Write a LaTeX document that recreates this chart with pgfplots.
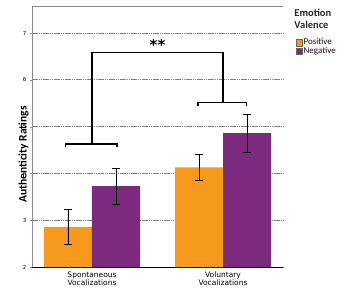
\documentclass[border=0pt]{standalone}
\usepackage{pgfplots}
\pgfplotsset{compat=1.18}
\usepackage{fontspec}
\setmainfont{Carlito}
\newfontfamily\catfont{DejaVu Sans}
\definecolor{posorange}{HTML}{F7991C}
\definecolor{negpurple}{HTML}{7B2A7D}
\definecolor{gridgray}{HTML}{8C8C8C}
\begin{document}
\begin{tikzpicture}[x=1pt,y=1pt]
\useasboundingbox (0,0) rectangle (355,294);
\begin{axis}[
  at={(32pt,27pt)}, anchor=south west,
  scale only axis, width=251pt, height=261pt,
  ybar=0pt, bar width=48pt,
  xmin=-0.458, xmax=1.458,
  ymin=2, ymax=7.58,
  xtick={0,1},
  xticklabels={Spontaneous\\Vocalizations, Voluntary\\Vocalizations},
  xticklabel style={align=center, font=\catfont\fontsize{7.5}{8.5}\selectfont, yshift=1pt},
  x tick style={draw=none},
  ytick={2,3,4,5,6,7},
  yticklabel style={font=\catfont\fontsize{5.5}{5.5}\selectfont},
  /pgf/number format/assume math mode=true,
  tick align=outside, major tick length=2pt,
  y tick style={gridgray},
  ymajorgrids,
  major grid style={gridgray!90!black, line width=0.8pt, dash pattern=on 1.6pt off 0.6pt},
  axis x line*=bottom, axis y line*=left,
  x axis line style={black, line width=0.8pt, -},
  y axis line style={gridgray, line width=0.8pt, -},
  ylabel={\bfseries Authenticity Ratings},
  ylabel style={font=\fontsize{11.5}{12}\selectfont, at={(rel axis cs:0,0.5)}, xshift=-18pt},
  legend style={at={(rel axis cs:1.05,0.88)}, anchor=north west, draw=none,
    fill=none, font=\fontsize{9}{9}\selectfont, text=black!75!negpurple,
    row sep=-1pt, inner sep=0pt, nodes={inner sep=1pt}},
  legend image code/.code={\draw[#1, draw=black!60, line width=0.3pt] (0pt,-3.3pt) rectangle (6.6pt,3.3pt);},
  legend cell align=left,
  clip=false,
]
% Mean ratings with error bars
\addplot[fill=posorange, draw=none,
  error bars/.cd, y dir=both, y explicit,
  error bar style={black, line width=0.6pt},
  error mark options={black, rotate=90, mark size=4pt, line width=0.6pt}]
  coordinates {(0,2.86) +- (0,0.38) (1,4.13) +- (0,0.28)};
\addplot[fill=negpurple, draw=none,
  error bars/.cd, y dir=both, y explicit,
  error bar style={black, line width=0.6pt},
  error mark options={black, rotate=90, mark size=4pt, line width=0.6pt}]
  coordinates {(0,3.73) +- (0,0.38) (1,4.86) +- (0,0.40)};
\legend{Positive, Negative}
% top frame line
\draw[gridgray, line width=0.8pt] (rel axis cs:0,1) -- (rel axis cs:1,1);
% significance brackets
\draw[black, line width=1.3pt]
  (axis cs:-0.2,4.57) -- (axis cs:-0.2,4.63) -- (axis cs:0.19,4.63) -- (axis cs:0.19,4.57);
\draw[black, line width=1.3pt]
  (axis cs:0.81,5.45) -- (axis cs:0.81,5.51) -- (axis cs:1.18,5.51) -- (axis cs:1.18,5.45);
\draw[black, line width=1.3pt]
  (axis cs:0,4.63) -- (axis cs:0,6.58) -- (axis cs:1,6.58) -- (axis cs:1,5.51);
\node[font=\catfont\bfseries\fontsize{15}{15}\selectfont, anchor=south, inner sep=0pt] at (axis cs:0.5,6.62) {**};
% legend title
\node[anchor=north west, align=left, font=\bfseries\fontsize{10.5}{12}\selectfont, text=black!85, inner sep=0pt]
  at (rel axis cs:1.045,0.99) {Emotion\\Valence};
\end{axis}
\end{tikzpicture}
\end{document}
